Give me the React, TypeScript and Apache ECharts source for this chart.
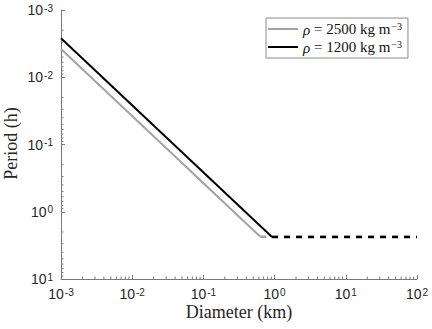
import React, { useEffect, useRef } from "react";
import * as echarts from "echarts";

// Data (diameter in km, period in h)
const gray2500Strength: [number, number][] = [[0.001, 0.0038], [0.63, 2.35]];
const gray2500Spin: [number, number][] = [[0.63, 2.35], [100, 2.35]];
const black1200Strength: [number, number][] = [[0.001, 0.00264], [0.92, 2.37]];
const black1200Spin: [number, number][] = [[0.92, 2.37], [100, 2.37]];

const xDecades = [-3, -2, -1, 0, 1, 2];
const yDecades = [-3, -2, -1, 0, 1];
const minorMultipliers = [2, 3, 4, 5, 6, 7, 8, 9];

const xTitle = "Diameter (km)";
const yTitle = "Period (h)";
const legendNames = ["rho2500", "rho1200"];
const legendTexts: Record<string, string> = {
  rho2500: "{i|ρ} = 2500 kg m{s|−3}",
  rho1200: "{i|ρ} = 1200 kg m{s|−3}",
};

const X_MIN = 0.001, X_MAX = 100, Y_MIN = 0.001, Y_MAX = 10;

function minorTicks(decades: number[]): number[] {
  const out: number[] = [];
  for (let i = 0; i < decades.length - 1; i++) {
    for (const m of minorMultipliers) out.push(m * Math.pow(10, decades[i]));
  }
  return out;
}

const AXIS_COLOR = "#7a7a7a";
const LABEL_COLOR = "#262626";
const tickFont = "Arial";
const serif = "Liberation Serif";

const tickRich = {
  b: { fontSize: 14, fontFamily: tickFont, color: LABEL_COLOR, lineHeight: 14, verticalAlign: "bottom" as const },
  e: { fontSize: 10, fontFamily: tickFont, color: LABEL_COLOR, lineHeight: 14, verticalAlign: "top" as const, padding: [0, 0, 5, 1] },
};

function powLabel(v: number) {
  const n = Math.round(Math.log10(v));
  return `{b|10}{e|${n}}`;
}

const GRID = { left: 61, top: 10, width: 356, height: 269 };

export default function App() {
  const ref = useRef<HTMLDivElement>(null);
  useEffect(() => {
    if (!ref.current) return;
    const chart = echarts.init(ref.current, undefined, { renderer: "svg" });
    const xMinor = minorTicks(xDecades).map((v) => [v, Y_MAX]);
    const yMinor = minorTicks(yDecades).map((v) => [X_MIN, v]);
    chart.setOption({
      animation: false,
      backgroundColor: "#ffffff",
      grid: { ...GRID, containLabel: false },
      graphic: [
        {
          type: "text",
          x: GRID.left + GRID.width / 2,
          y: 312,
          style: {
            text: xTitle,
            font: `18px ${serif}, Times New Roman, serif`,
            fill: LABEL_COLOR,
            textAlign: "center",
            textVerticalAlign: "middle",
          },
        },
        {
          type: "text",
          x: 11,
          y: GRID.top + GRID.height / 2 - 1,
          rotation: Math.PI / 2,
          style: {
            text: yTitle,
            font: `18px ${serif}, Times New Roman, serif`,
            fill: LABEL_COLOR,
            textAlign: "center",
            textVerticalAlign: "middle",
          },
        },
      ],
      xAxis: {
        type: "log",
        logBase: 10,
        min: X_MIN,
        max: X_MAX,
        axisLine: { show: true, lineStyle: { color: AXIS_COLOR, width: 1 } },
        axisTick: { show: true, inside: true, length: 4, lineStyle: { color: AXIS_COLOR } },
        axisLabel: { formatter: powLabel, rich: tickRich, margin: 8, fontFamily: tickFont },
        splitLine: { show: false },
        minorTick: { show: false },
      },
      yAxis: {
        type: "log",
        logBase: 10,
        inverse: true,
        min: Y_MIN,
        max: Y_MAX,
        axisLine: { show: true, lineStyle: { color: AXIS_COLOR, width: 1 } },
        axisTick: { show: true, inside: true, length: 4, lineStyle: { color: AXIS_COLOR } },
        axisLabel: { formatter: powLabel, rich: tickRich, margin: 8, fontFamily: tickFont },
        splitLine: { show: false },
      },
      legend: {
        data: legendNames.map((n) => ({ name: n, icon: "rect" })),
        orient: "vertical",
        left: 266,
        top: 18,
        padding: [3, 6, 3, 2],
        itemGap: 2,
        itemWidth: 30,
        itemHeight: 2,
        backgroundColor: "#ffffff",
        borderColor: "#8a8a8a",
        borderWidth: 1,
        borderRadius: 0,
        selectedMode: false,
        formatter: (name: string) => legendTexts[name],
        textStyle: {
          fontFamily: serif,
          fontSize: 15,
          color: "#111",
          lineHeight: 16,
          rich: {
            i: { fontFamily: serif, fontSize: 15, fontStyle: "italic", color: "#111", lineHeight: 16, verticalAlign: "bottom" },
            s: { fontFamily: serif, fontSize: 10, color: "#111", lineHeight: 16, verticalAlign: "top", padding: [0, 0, 6, 1] },
          },
        },
      },
      series: [
        {
          name: "rho2500",
          type: "line",
          data: gray2500Strength,
          symbol: "none",
          color: "#a3a3a3",
          lineStyle: { color: "#a3a3a3", width: 2 },
          z: 2,
        },
        {
          name: "rho2500-spin",
          type: "line",
          data: gray2500Spin,
          symbol: "none",
          color: "#a3a3a3",
          lineStyle: { color: "#a3a3a3", width: 2.5, type: [6, 6] },
          z: 2,
        },
        {
          name: "rho1200",
          type: "line",
          data: black1200Strength,
          symbol: "none",
          color: "#000000",
          lineStyle: { color: "#000000", width: 2 },
          z: 3,
        },
        {
          name: "rho1200-spin",
          type: "line",
          data: black1200Spin,
          symbol: "none",
          color: "#000000",
          lineStyle: { color: "#000000", width: 2.5, type: [6, 6] },
          z: 3,
        },
        {
          type: "custom",
          silent: true,
          clip: false,
          data: xMinor,
          renderItem: (_p: any, api: any) => {
            const pt = api.coord([api.value(0), api.value(1)]);
            return {
              type: "line",
              shape: { x1: pt[0], y1: pt[1], x2: pt[0], y2: pt[1] - 2.5 },
              style: { stroke: AXIS_COLOR, lineWidth: 1 },
            };
          },
          z: 1,
        },
        {
          type: "custom",
          silent: true,
          clip: false,
          data: yMinor,
          renderItem: (_p: any, api: any) => {
            const pt = api.coord([api.value(0), api.value(1)]);
            return {
              type: "line",
              shape: { x1: pt[0], y1: pt[1], x2: pt[0] + 2.5, y2: pt[1] },
              style: { stroke: AXIS_COLOR, lineWidth: 1 },
            };
          },
          z: 1,
        },
      ],
    });
    return () => chart.dispose();
  }, []);
  return (
    <div
      ref={ref}
      style={{ position: "fixed", left: 0, top: 0, width: 432, height: 329, background: "#fff" }}
    />
  );
}
